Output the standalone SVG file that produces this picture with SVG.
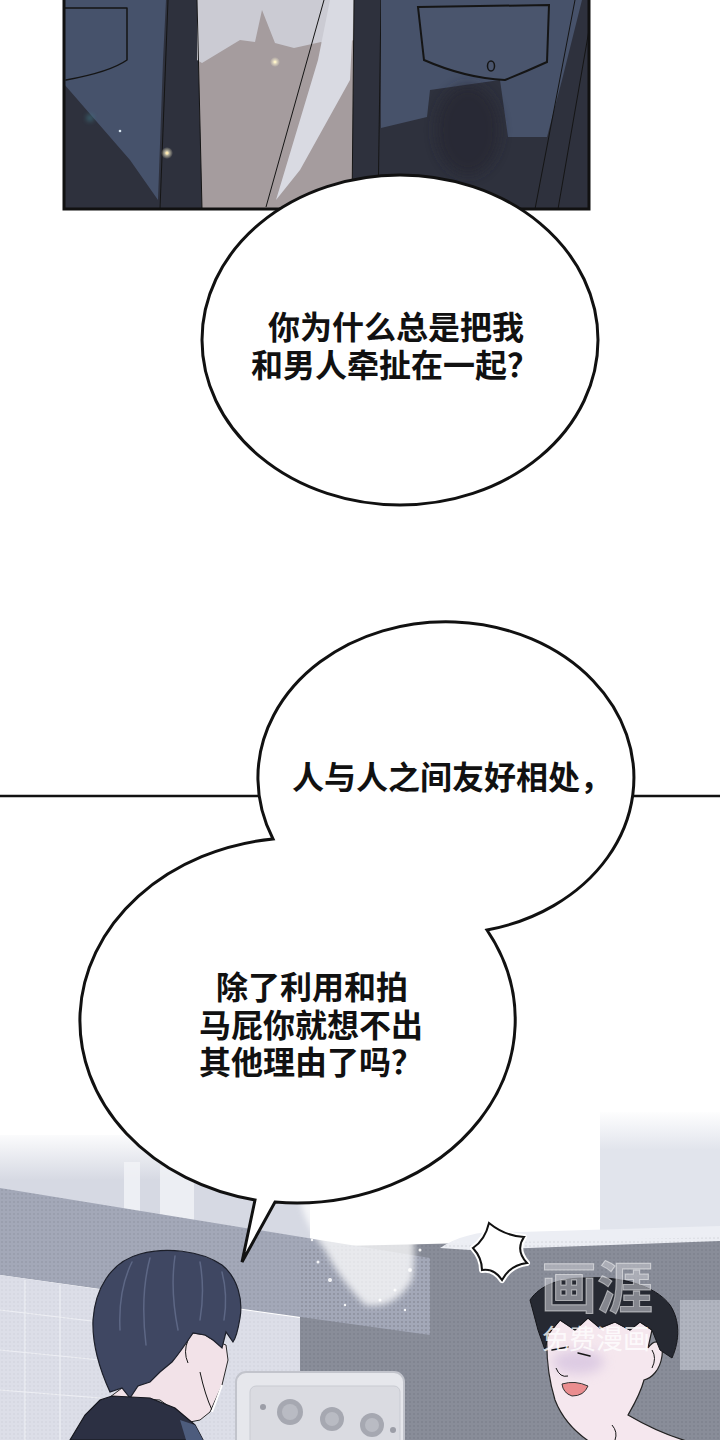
<svg xmlns="http://www.w3.org/2000/svg" width="720" height="1440" viewBox="0 0 720 1440">
<style>
.txt{font-family:"Noto Sans CJK SC","Noto Sans",sans-serif;font-size:32px;font-weight:600;fill:#111}
.bubble{fill:#fff;stroke:#111;stroke-width:3;stroke-linejoin:miter}
.ink{fill:none;stroke:#151515;stroke-width:1.5;stroke-linecap:round;stroke-linejoin:round}
.thin{fill:none;stroke:#151515;stroke-width:1}
</style>
<defs>
<clipPath id="panelClip"><rect x="64" y="0" width="525" height="209"/></clipPath>
<linearGradient id="fadeTop" x1="0" y1="1130" x2="0" y2="1180" gradientUnits="userSpaceOnUse">
<stop offset="0" stop-color="#ffffff"/><stop offset="1" stop-color="#d6d9e3"/></linearGradient>
<linearGradient id="fadeRight" x1="0" y1="1110" x2="0" y2="1150" gradientUnits="userSpaceOnUse">
<stop offset="0" stop-color="#ffffff"/><stop offset="1" stop-color="#e1e4ec"/></linearGradient>
<pattern id="dots" width="4" height="4" patternUnits="userSpaceOnUse">
<circle cx="2" cy="2" r="0.8" fill="#000" fill-opacity="0.12"/></pattern>
<filter id="blur6" x="-50%" y="-50%" width="200%" height="200%"><feGaussianBlur stdDeviation="6"/></filter>
<filter id="blur3" x="-50%" y="-50%" width="200%" height="200%"><feGaussianBlur stdDeviation="3"/></filter>
<filter id="blur2" x="-50%" y="-50%" width="200%" height="200%"><feGaussianBlur stdDeviation="2"/></filter>
<radialGradient id="glow"><stop offset="0" stop-color="#fff6d0"/><stop offset="1" stop-color="#fff6d0" stop-opacity="0"/></radialGradient>
</defs>
<rect width="720" height="1440" fill="#ffffff"/>

<!-- top panel -->
<g id="top-panel">
<g clip-path="url(#panelClip)">
<rect x="64" y="0" width="525" height="209" fill="#2e313d"/>
<polygon points="64,0 166,0 163,60 158,200 130,160 64,84" fill="#46526b"/>
<path d="M64,8 L127,8 L127,60 Q110,72 66,80" class="ink" stroke-width="2"/>
<line x1="168" y1="0" x2="160" y2="209" class="thin"/>
<polygon points="197,0 354,0 352,209 202,209" fill="#a59c9e"/>
<polygon points="197,0 354,0 354,40 331,47 321,42 294,48 275,43 262,10 255,42 240,40 202,63 197,60" fill="#cbcbd3"/>
<polygon points="330,0 354,0 350,80 300,170 276,200 318,60" fill="#d9dae2"/>
<line x1="324" y1="0" x2="266" y2="207" class="thin"/>
<line x1="197" y1="0" x2="202" y2="209" class="thin"/>
<line x1="354" y1="0" x2="352" y2="209" class="thin"/>
<line x1="381" y1="0" x2="378" y2="209" class="thin"/>
<polygon points="381,0 582,0 562,80 547,137 508,137 500,80 430,90 427,117 381,128" fill="#47526a"/>
<ellipse cx="468" cy="130" rx="32" ry="45" fill="#262831" opacity="0.7" filter="url(#blur6)"/>
<path d="M418,7 L549,5 L547,62 Q525,72 505,80 Q465,78 424,60 Z" fill="#4a556d" stroke="#151515" stroke-width="2"/>
<ellipse cx="491" cy="66" rx="3.5" ry="5" fill="none" stroke="#151515" stroke-width="1.5"/>
<line x1="575" y1="0" x2="535" y2="209" class="thin"/>
<line x1="589" y1="30" x2="558" y2="209" class="thin"/>
<circle cx="275" cy="62" r="5" fill="url(#glow)"/><circle cx="275" cy="62" r="1.3" fill="#fff4c8"/>
<circle cx="167" cy="153" r="6" fill="url(#glow)"/><circle cx="167" cy="153" r="1.5" fill="#ffe9b0"/>
<circle cx="120" cy="131" r="1.3" fill="#d8e6f0"/>
<circle cx="90" cy="118" r="4" fill="#3f7a86" opacity="0.5" filter="url(#blur2)"/>
</g>
<rect x="64" y="-4" width="525" height="213" fill="none" stroke="#111" stroke-width="3"/>
</g>

<!-- bubble 1 -->
<g id="bubble-1">
<ellipse cx="400" cy="340" rx="198" ry="165" class="bubble"/>
<text class="txt"><tspan x="268" y="339">你为什么总是把我</tspan><tspan x="251" y="377">和男人牵扯在一起？</tspan></text>
</g>

<!-- panel divider line -->
<g id="divider">
<line x1="0" y1="796" x2="720" y2="796" stroke="#111" stroke-width="2.5"/>
</g>

<!-- bottom scene -->
<g id="scene">
<path d="M0,1135 L310,1135 L310,1245 L0,1190 Z" fill="url(#fadeTop)"/>
<rect x="124" y="1162" width="16" height="68" fill="#f3f4f8" opacity="0.8"/>
<rect x="160" y="1166" width="34" height="64" fill="#f1f2f6" opacity="0.8"/>
<path d="M600,1112 L720,1112 L720,1242 L600,1242 Z" fill="url(#fadeRight)"/>
<path d="M300,1247 L470,1243 L720,1237 L720,1440 L300,1440 Z" fill="#898d99"/>
<path d="M440,1248 Q470,1228 520,1232 L720,1226 L720,1241 L470,1250 Z" fill="#eceef4"/>
<rect x="680" y="1300" width="40" height="70" fill="#b0b4bf"/>
<path d="M0,1188 L430,1258 L430,1335 L0,1275 Z" fill="#a3a8b8"/>
<path d="M0,1275 L300,1318 L300,1440 L0,1440 Z" fill="#dcdee8"/>
<g stroke="#f2f3f7" stroke-width="1.2" opacity="0.8">
<line x1="0" y1="1310" x2="100" y2="1322"/><line x1="0" y1="1350" x2="100" y2="1360"/>
<line x1="0" y1="1390" x2="100" y2="1398"/><line x1="25" y1="1280" x2="25" y2="1440"/>
<line x1="60" y1="1285" x2="60" y2="1440"/>
</g>
<path d="M0,1188 L430,1258 L430,1335 L0,1275 Z" fill="url(#dots)"/>
<path d="M300,1247 L720,1237 L720,1440 L300,1440 Z" fill="url(#dots)"/>
<path d="M0,1275 L300,1318 L300,1440 L0,1440 Z" fill="url(#dots)" opacity="0.5"/>
<g fill="#ffffff" filter="url(#blur3)" opacity="0.75">
<path d="M300,1200 Q340,1185 400,1195 Q420,1230 412,1280 Q395,1310 365,1305 Q340,1280 325,1250 Q305,1225 300,1200 Z"/>
</g>
<g fill="#ffffff" opacity="0.9">
<circle cx="330" cy="1280" r="2"/><circle cx="395" cy="1290" r="1.5"/><circle cx="410" cy="1270" r="2"/>
<circle cx="318" cy="1262" r="1.5"/><circle cx="380" cy="1300" r="1.5"/><circle cx="420" cy="1250" r="1.5"/>
<circle cx="345" cy="1305" r="1.2"/><circle cx="405" cy="1310" r="1.2"/><circle cx="312" cy="1240" r="1.2"/>
</g>
<!-- AC unit -->
<rect x="236" y="1372" width="168" height="80" rx="10" fill="#e6e7ec" stroke="#c2c4cc" stroke-width="2"/>
<rect x="250" y="1386" width="150" height="62" rx="6" fill="#dadbe1" stroke="#c9cbd2" stroke-width="1"/>
<circle cx="290" cy="1412" r="13" fill="#a6a8b1"/><circle cx="290" cy="1412" r="8" fill="#b9bbc3"/>
<circle cx="332" cy="1419" r="12" fill="#a6a8b1"/><circle cx="332" cy="1419" r="7" fill="#b9bbc3"/>
<circle cx="372" cy="1425" r="12" fill="#a6a8b1"/><circle cx="372" cy="1425" r="7" fill="#b9bbc3"/>
<circle cx="263" cy="1407" r="3" fill="#9c9ea7"/><circle cx="393" cy="1430" r="3" fill="#9c9ea7"/>
</g>

<!-- left character -->
<g id="left-character">
<path d="M110,1397 L122,1388 L138,1386 L160,1372 L193,1333 L205,1335 L213,1340 L226,1345 L228,1360 L222,1385 L210,1412 L200,1420 L190,1422 L160,1400 Z" fill="#f2e2e8" stroke="#2a2a2a" stroke-width="1"/>
<path d="M188,1340 Q183,1352 188,1363" class="thin"/>
<path d="M200,1372 Q205,1395 212,1410" class="thin"/>
<path d="M222,1385 L212,1412" stroke="#ffffff" stroke-width="2" fill="none"/>
<path d="M110,1392 C100,1370 92,1345 93,1320 C95,1290 110,1262 140,1254 C165,1247 200,1250 222,1265 C238,1278 243,1300 240,1318 C238,1330 236,1338 233,1342 L226,1332 L222,1348 L213,1340 L205,1335 L193,1333 C185,1345 178,1355 172,1362 L160,1372 L150,1382 L138,1386 L130,1398 L122,1388 Z" fill="#3f4762" stroke="#1c1f2a" stroke-width="1.2"/>
<g stroke="#5d6785" stroke-width="1.5" fill="none" stroke-linecap="round">
<path d="M132,1262 Q118,1290 120,1330"/><path d="M150,1258 Q140,1295 146,1345"/>
<path d="M175,1256 Q170,1290 178,1330"/><path d="M200,1262 Q205,1290 200,1320"/>
<path d="M222,1272 Q228,1295 224,1320"/>
</g>
<path d="M70,1440 L85,1415 L100,1400 L112,1396 L150,1398 L175,1408 L195,1425 L203,1440 Z" fill="#2c3043" stroke="#15161d" stroke-width="1.2"/>
<path d="M180,1420 L195,1425 L203,1440 L186,1440 Z" fill="#4d5c7d"/>
</g>

<!-- right character -->
<g id="right-character">
<path d="M547,1335 L560,1320 L575,1330 L588,1318 L600,1328 L615,1322 L630,1330 L640,1322 L652,1330 L648,1348 C655,1338 664,1340 662,1356 C660,1370 652,1378 644,1380 C640,1395 632,1408 628,1415 C645,1425 665,1435 690,1442 L590,1442 C575,1432 562,1418 555,1400 C549,1380 546,1358 547,1335 Z" fill="#f5e7ee" stroke="#222" stroke-width="1.2"/>
<ellipse cx="578" cy="1362" rx="26" ry="12" fill="#cdb9dc" opacity="0.6" filter="url(#blur6)"/>
<path d="M530,1300 C540,1285 560,1278 585,1278 C620,1276 655,1285 670,1305 C680,1320 680,1340 672,1358 L660,1350 L652,1330 L640,1322 L630,1330 L615,1322 L600,1328 L588,1318 L575,1330 L560,1320 L548,1335 L545,1350 L538,1330 Z" fill="#262932" stroke="#15161b" stroke-width="1"/>
<path d="M552,1350 L568,1347" class="ink"/><path d="M578,1353 L590,1356" class="ink"/>
<path d="M556,1368 Q560,1378 568,1376" class="thin"/>
<path d="M652,1350 Q657,1358 652,1368" class="thin"/>
<path d="M562,1384 Q575,1380 588,1386 Q584,1396 572,1396 Q563,1393 562,1384 Z" fill="#ea8d8f" stroke="#333" stroke-width="1"/>
<path d="M612,1425 Q618,1432 615,1440" class="thin"/>
</g>

<!-- bubble 2 -->
<g id="bubble-2">
<path d="M273,839 A188,156 0 1 1 487,930 A219,183 0 0 1 275,1202 L242,1262 L255,1200 A219,183 0 0 1 273,839 Z" class="bubble"/>
<text class="txt" x="292" y="789">人与人之间友好相处，</text>
<text class="txt"><tspan x="216" y="999">除了利用和拍</tspan><tspan x="199" y="1037">马屁你就想不出</tspan><tspan x="199" y="1074">其他理由了吗？</tspan></text>
</g>

<!-- starburst -->
<g id="starburst">
<path d="M489,1223 Q505,1236 524,1237 Q515,1250 527,1263 Q510,1265 502,1280 Q494,1268 482,1270 Q482,1258 473,1248 Q485,1240 489,1223 Z" fill="none" stroke="#ffffff" stroke-width="6" stroke-linejoin="round"/>
<path d="M489,1223 Q505,1236 524,1237 Q515,1250 527,1263 Q510,1265 502,1280 Q494,1268 482,1270 Q482,1258 473,1248 Q485,1240 489,1223 Z" fill="#ffffff" stroke="#111" stroke-width="2" stroke-linejoin="miter"/>
</g>

<!-- watermark -->
<g id="watermark" font-family="'Noto Sans CJK SC','Noto Sans',sans-serif">
<text x="541" y="1308" font-size="56" font-weight="700" fill="#c3c4cc" fill-opacity="0.6" stroke="#ffffff" stroke-opacity="0.5" stroke-width="1">画涯</text>
<text x="542" y="1349" font-size="27" fill="#ffffff" fill-opacity="0.8">免费漫画</text>
</g>
</svg>
